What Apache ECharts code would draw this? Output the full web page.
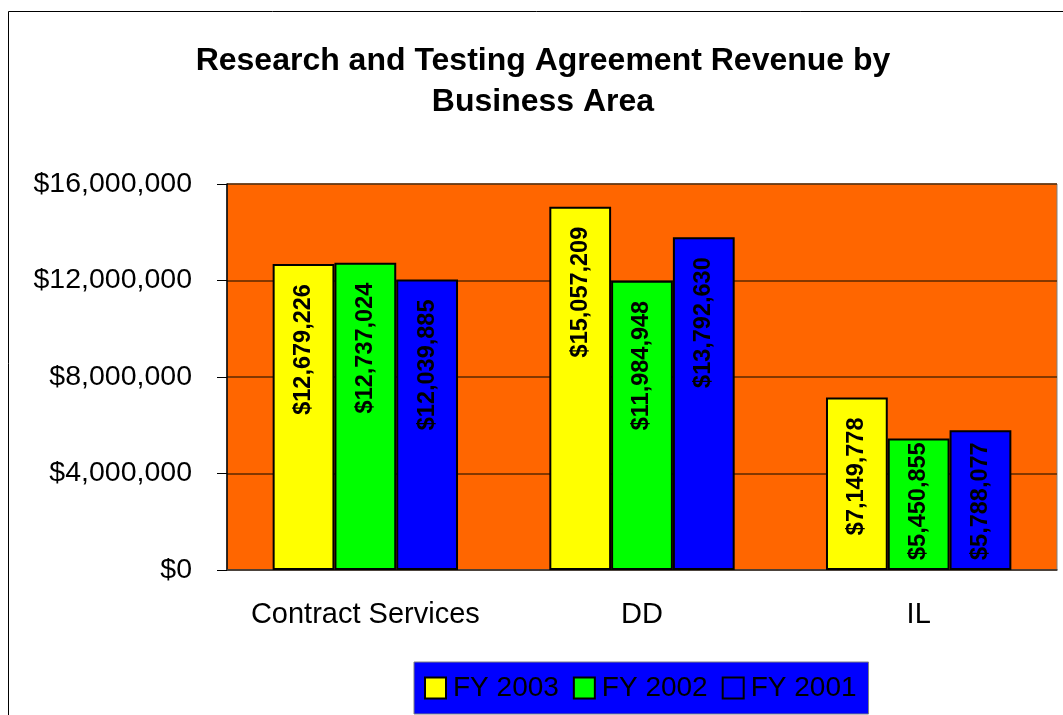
<!DOCTYPE html>
<html>
<head>
<meta charset="utf-8">
<script src="https://cdn.jsdelivr.net/npm/echarts@6/dist/echarts.min.js"></script>
<style>
  html, body { margin: 0; padding: 0; background: #fff; }
  #chart { width: 1063px; height: 715px; }
</style>
</head>
<body>
<div id="chart"></div>
<script>
const categories = ['Contract Services', 'DD', 'IL'];
const fy2003 = [12679226, 15057209, 7149778];
const fy2002 = [12737024, 11984948, 5450855];
const fy2001 = [12039885, 13792630, 5788077];
const seriesNames = ['FY 2003', 'FY 2002', 'FY 2001'];
const seriesColors = ['#FFFF00', '#00FF00', '#0000FF'];

const font = '"Liberation Sans", Arial, sans-serif';
const money = (v) => '$' + Number(v).toLocaleString('en-US');

const chart = echarts.init(document.getElementById('chart'));

const barLabel = {
  show: true,
  position: 'insideTop',
  distance: 20,
  rotate: 90,
  align: 'right',
  verticalAlign: 'middle',
  color: '#000',
  fontFamily: font,
  fontWeight: 'bold',
  fontSize: 23.5,
  formatter: (p) => money(p.value),
};

// short bars: label sits against the bottom instead of hanging from the top
const toItems = (data) => data.map((v) => (v < 6500000
  ? { value: v, label: { position: 'insideBottom', distance: 10, align: 'left' } }
  : v));

chart.setOption({
  backgroundColor: '#fff',
  animation: false,
  title: {
    text: 'Research and Testing Agreement Revenue by\nBusiness Area',
    left: 538,
    top: 36,
    textAlign: 'center',
    textStyle: { fontFamily: font, fontWeight: 'bold', fontSize: 32, lineHeight: 41, color: '#000' },
  },
  graphic: [
    {
      type: 'rect',
      shape: { x: 8.5, y: 11.5, width: 1100, height: 800 },
      style: { fill: 'none', stroke: '#000', lineWidth: 1 },
      silent: true,
    },
  ],
  legend: {
    left: 414,
    top: 662,
    data: seriesNames,
    backgroundColor: '#0000FF',
    borderColor: '#808080',
    borderWidth: 1,
    padding: [12, 12, 12, 10],
    itemWidth: 21,
    itemHeight: 21,
    itemGap: 14,
    icon: 'rect',
    itemStyle: { borderColor: '#000', borderWidth: 2 },
    textStyle: { fontFamily: font, fontSize: 28, color: '#000', padding: [0, 0, 0, 2] },
  },
  grid: {
    left: 227,
    right: 6,
    top: 184,
    bottom: 145,
    show: true,
    backgroundColor: '#FF6600',
    borderColor: '#808080',
    borderWidth: 1,
  },
  xAxis: {
    type: 'category',
    data: categories,
    axisLine: { lineStyle: { color: '#404040', width: 1.5 } },
    axisTick: { length: 10, lineStyle: { color: '#000' } },
    axisLabel: { interval: 0, margin: 30, fontFamily: font, fontSize: 29, color: '#000' },
  },
  yAxis: {
    type: 'value',
    min: 0,
    max: 16000000,
    interval: 4000000,
    axisLine: { show: true, lineStyle: { color: '#000', width: 1.5 } },
    axisTick: { show: true, length: 10, lineStyle: { color: '#000' } },
    axisLabel: { margin: 35, fontFamily: font, fontSize: 28.5, color: '#000', formatter: money },
    splitLine: { lineStyle: { color: '#5a2800', width: 1.5 } },
  },
  series: [fy2003, fy2002, fy2001].map((data, i) => ({
    name: seriesNames[i],
    type: 'bar',
    data: toItems(data),
    barGap: '0%',
    barCategoryGap: '33%',
    itemStyle: { color: seriesColors[i], borderColor: '#000', borderWidth: 2 },
    label: barLabel,
  })),
});
</script>
</body>
</html>
